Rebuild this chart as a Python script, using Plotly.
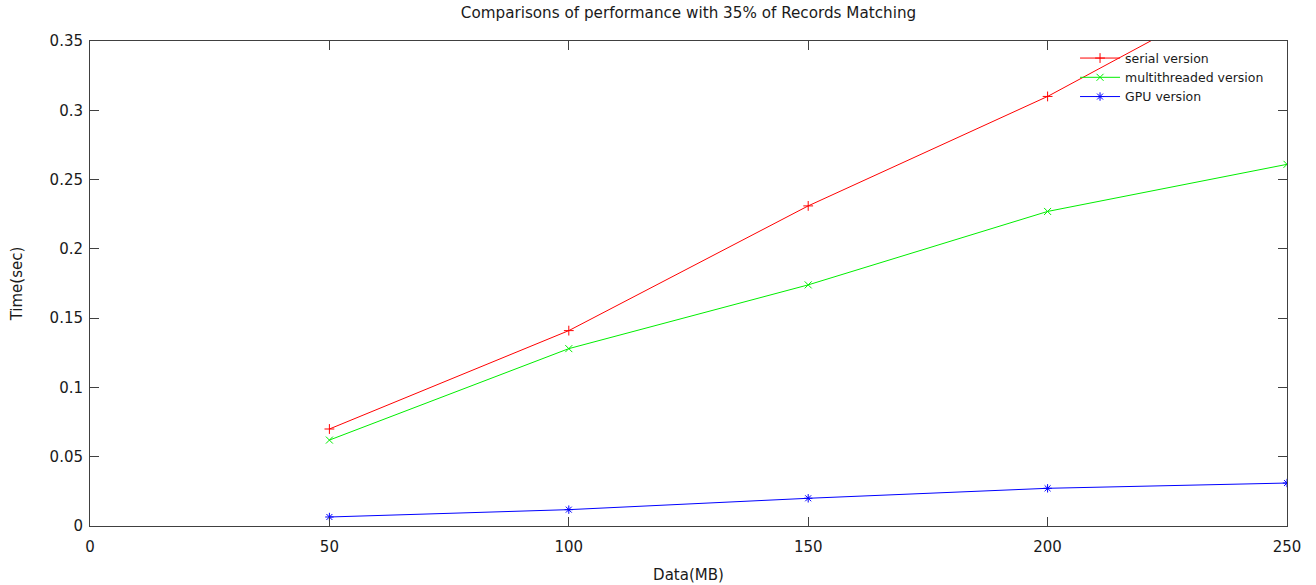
import plotly.graph_objects as go

data_mb = [50, 100, 150, 200, 250]
serial = [0.070, 0.141, 0.231, 0.310, 0.403]
multithreaded = [0.062, 0.128, 0.174, 0.227, 0.261]
gpu = [0.0065, 0.0118, 0.0200, 0.0272, 0.0310]

x_ticks = [0, 50, 100, 150, 200, 250]
y_ticks = [0, 0.05, 0.1, 0.15, 0.2, 0.25, 0.3, 0.35]

FONT = "DejaVu Sans"
TXT = "#1a1a1a"
AX = "#404040"

fig = go.Figure()
series = [
    ("serial version", serial, "#ff0000", "cross-thin-open"),
    ("multithreaded version", multithreaded, "#00ee00", "x-thin-open"),
    ("GPU version", gpu, "#0000ff", "asterisk-open"),
]
for name, vals, col, sym in series:
    fig.add_trace(go.Scatter(
        x=data_mb, y=vals, name=name, mode="lines+markers",
        line=dict(color=col, width=1),
        marker=dict(symbol=sym, size=7, color=col, line=dict(color=col, width=1)),
    ))

axis_common = dict(
    showgrid=False, zeroline=False, showline=True, linecolor=AX, linewidth=1,
    mirror="ticks", ticks="inside", ticklen=9, tickcolor=AX, automargin=False,
    tickfont=dict(family=FONT, size=15, color=TXT),
)
fig.update_xaxes(range=[0, 250], tickvals=x_ticks, ticklabelstandoff=7,
                 title=dict(text="Data(MB)", font=dict(family=FONT, size=15, color=TXT), standoff=14),
                 **axis_common)
fig.update_yaxes(range=[0, 0.35], tickvals=y_ticks, ticklabelstandoff=3,
                 title=dict(text="Time(sec)", font=dict(family=FONT, size=15, color=TXT), standoff=23),
                 **axis_common)

fig.update_layout(
    width=1316, height=585,
    margin=dict(l=90, r=29, t=41, b=59),
    paper_bgcolor="white", plot_bgcolor="white",
    title=dict(text="Comparisons of performance with 35% of Records Matching",
               x=0.5, xanchor="center", xref="paper", y=1 - 13 / 585, yanchor="middle",
               font=dict(family=FONT, size=15.2, color=TXT)),
    legend=dict(x=0.985, xanchor="right", y=0.995, yanchor="top",
                bgcolor="rgba(0,0,0,0)", font=dict(family=FONT, size=12.5, color=TXT),
                tracegroupgap=0, itemwidth=40),
    showlegend=True,
)

fig.write_html("out.html", config={"displayModeBar": False},
               post_script="document.body.style.margin='0px';")
